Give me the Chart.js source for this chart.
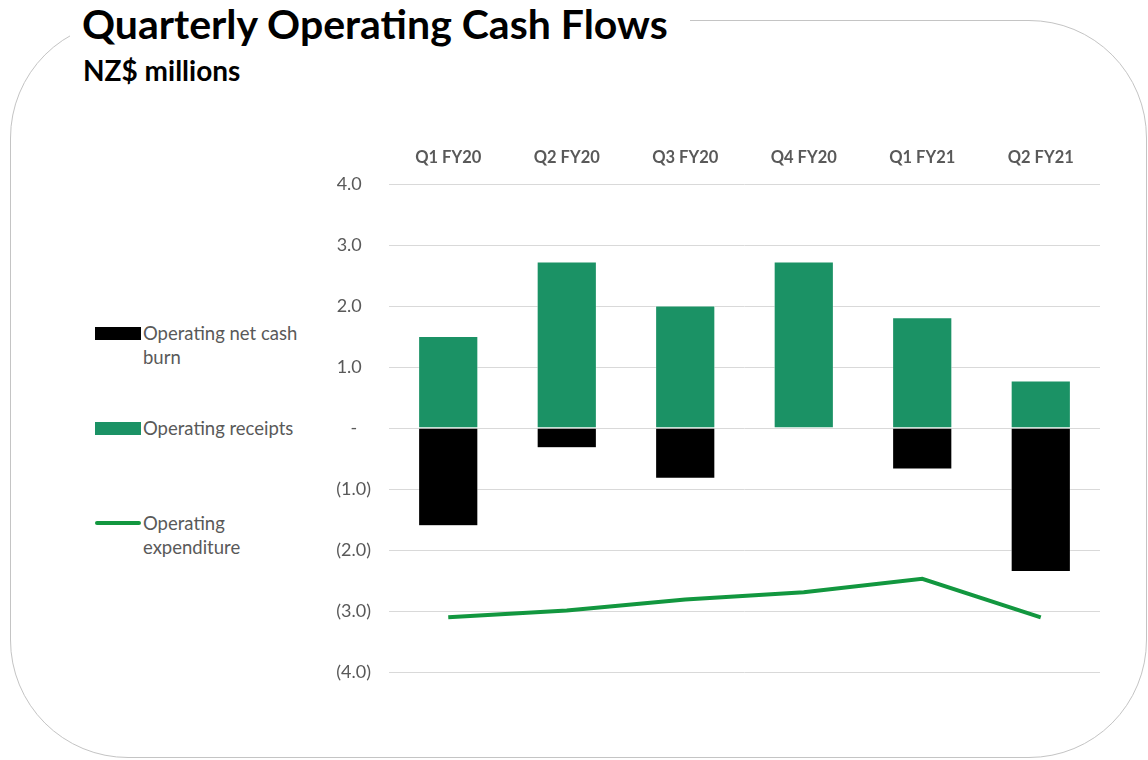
<!DOCTYPE html>
<html>
<head>
<meta charset="utf-8">
<script src="https://cdn.jsdelivr.net/npm/chart.js@4"></script>
<style>
  body { margin: 0; background: #fff; width: 1148px; height: 760px; overflow: hidden; position: relative; font-family: Lato, sans-serif; }
  #frame { position: absolute; left: 10px; top: 20px; width: 1135px; height: 736px; border: 1.5px solid #c4c4c4; border-radius: 118px; }
  #titleBox { position: absolute; left: 70px; top: 0; width: 620px; height: 46px; background: #fff; }
  #title { position: absolute; left: 82px; top: -1px; font-size: 41px; font-weight: bold; color: #000; white-space: nowrap; }
  #subtitle { position: absolute; left: 83px; top: 53px; font-size: 28px; font-weight: bold; color: #000; }
  .leg { position: absolute; left: 95px; font-size: 18.5px; color: #595959; line-height: 24px; }
  .leg .sw { position: absolute; left: 0; width: 46px; }
  .leg .tx { position: absolute; left: 48px; white-space: nowrap; }
  #wrap { position: absolute; left: 320px; top: 140px; width: 790px; height: 561px; }
</style>
</head>
<body>
<div id="frame"></div>
<div id="titleBox"></div>
<div id="title">Quarterly Operating Cash Flows</div>
<div id="subtitle">NZ$ millions</div>

<div class="leg" style="top:321px"><div class="sw" style="top:6px;height:13px;background:#000"></div><div class="tx">Operating net cash<br>burn</div></div>
<div class="leg" style="top:416px"><div class="sw" style="top:6px;height:13px;background:#1b9265"></div><div class="tx">Operating receipts</div></div>
<div class="leg" style="top:511px"><div class="sw" style="top:10px;height:4px;background:#12973f;border-radius:2px"></div><div class="tx">Operating<br>expenditure</div></div>

<div id="wrap"><canvas id="cashChart"></canvas></div>

<script>
const quarters = ['Q1 FY20', 'Q2 FY20', 'Q3 FY20', 'Q4 FY20', 'Q1 FY21', 'Q2 FY21'];
const receipts = [1.5, 2.72, 2.0, 2.72, 1.81, 0.77];
const netBurn = [-1.6, -0.32, -0.82, 0, -0.67, -2.35];
const expenditure = [-3.1, -2.99, -2.81, -2.69, -2.47, -3.1];
const yTicks = [4, 3, 2, 1, 0, -1, -2, -3, -4];

// accounting style labels like Excel: 4.0 / - / (1.0)
function fmt(v) {
    if (v === 0) return '-   ';
    if (v < 0) return '(' + Math.abs(v).toFixed(1) + ')';
    return v.toFixed(1) + '  ';
}

const ctx = document.getElementById('cashChart');
new Chart(ctx, {
    type: 'bar',
    data: {
        labels: quarters,
        datasets: [
            {
                type: 'line',
                label: 'Operating expenditure',
                data: expenditure,
                borderColor: '#12973f',
                borderWidth: 4,
                pointRadius: 0,
                tension: 0,
                stack: 'exp',
                order: 0
            },
            {
                label: 'Operating net cash burn',
                data: netBurn,
                backgroundColor: '#000000',
                borderColor: '#ffffff',
                borderWidth: 0.5,
                stack: 'bars',
                order: 1
            },
            {
                label: 'Operating receipts',
                data: receipts,
                backgroundColor: '#1b9265',
                borderColor: '#ffffff',
                borderWidth: 0.5,
                stack: 'bars',
                order: 2
            }
        ]
    },
    options: {
        responsive: true,
        maintainAspectRatio: false,
        animation: false,
        layout: { padding: { right: 10, bottom: 10 } },
        plugins: { legend: { display: false }, tooltip: { enabled: false } },
        datasets: { bar: { barPercentage: 0.5, categoryPercentage: 1 } },
        scales: {
            x: {
                position: 'top',
                stacked: true,
                grid: { display: false },
                border: { display: false },
                ticks: { color: '#595959', font: { family: 'Lato', size: 16.5, weight: 'bold' }, padding: 8, maxRotation: 0 },
                afterFit: (s) => { s.height = 44; }
            },
            y: {
                stacked: true,
                min: -4,
                max: 4,
                afterBuildTicks: (s) => { s.ticks = yTicks.map(v => ({ value: v })); },
                grid: { color: '#d9d9d9', lineWidth: 1, drawTicks: false },
                border: { display: false },
                ticks: { color: '#595959', font: { family: 'Lato', size: 18 }, padding: 18, callback: (v) => fmt(v) },
                afterFit: (s) => { s.width = 69; }
            }
        }
    }
});
</script>
</body>
</html>
